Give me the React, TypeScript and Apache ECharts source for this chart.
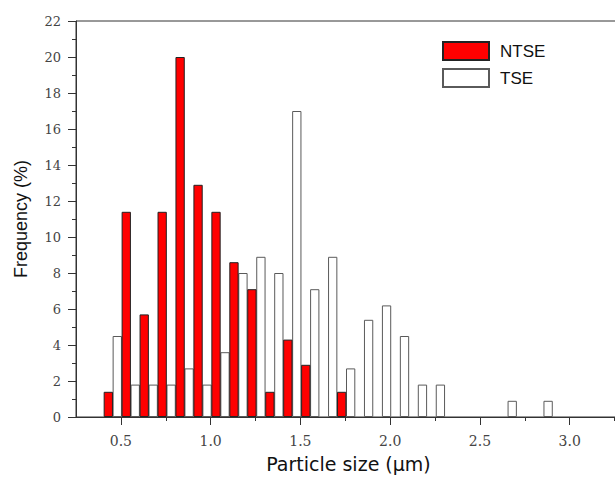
import React, { useEffect, useRef } from "react";
import * as echarts from "echarts";

// NTSE bins (bar centres, µm) and frequencies (%)
const ntseCenters = [0.43, 0.53, 0.63, 0.73, 0.83, 0.93, 1.03, 1.13, 1.23, 1.33, 1.43, 1.53, 1.73];
const ntseFreq = [1.4, 11.4, 5.7, 11.4, 20.0, 12.9, 11.4, 8.6, 7.1, 1.4, 4.3, 2.9, 1.4];

// TSE bins (bar centres, µm) and frequencies (%)
const tseCenters = [
  0.48, 0.58, 0.68, 0.78, 0.88, 0.98, 1.08, 1.18, 1.28, 1.38, 1.48, 1.58, 1.68, 1.78,
  1.88, 1.98, 2.08, 2.18, 2.28, 2.68, 2.88,
];
const tseFreq = [
  4.5, 1.8, 1.8, 1.8, 2.7, 1.8, 3.6, 8.0, 8.9, 8.0, 17.0, 7.1, 8.9, 2.7,
  5.4, 6.2, 4.5, 1.8, 1.8, 0.9, 0.9,
];

const majorXTicks = [0.5, 1.0, 1.5, 2.0, 2.5, 3.0];
const minorXTicks = [0.75, 1.25, 1.75, 2.25, 2.75, 3.25];
const xMin = 0.25;
const xMax = 3.286;
const yMin = 0;
const yMax = 22;
const yInterval = 2;

const serif = "DejaVu Serif";
const sans = "Liberation Sans";
const wideSans = "DejaVu Sans";
const axisColor = "#333";
const labelColor = "#444";

export default function App() {
  const ref = useRef<HTMLDivElement>(null);
  useEffect(() => {
    const chart = echarts.init(ref.current!, null, { renderer: "svg" });
    const gridPos = { left: 76, right: -6, top: 21, bottom: 61 };
    chart.setOption({
      animation: false,
      backgroundColor: "#fff",
      grid: [
        {
          ...gridPos,
          show: true,
          borderColor: axisColor,
          borderWidth: 1,
          backgroundColor: "transparent",
          outerBoundsMode: "none",
          containLabel: false,
        },
        { ...gridPos, outerBoundsMode: "none", containLabel: false },
      ],
      legend: {
        data: ["NTSE", "TSE"],
        orient: "vertical",
        left: 437,
        top: 36,
        itemWidth: 46,
        itemHeight: 18,
        itemGap: 7,
        icon: "rect",
        textStyle: { fontFamily: sans, fontSize: 17, color: "#111", padding: [0, 0, 0, 6] },
      },
      xAxis: [
        {
          type: "value",
          gridIndex: 0,
          min: xMin,
          max: xMax,
          splitLine: { show: false },
          axisLine: { show: true, lineStyle: { color: axisColor, width: 1 } },
          axisTick: { show: true, customValues: majorXTicks, length: 8, lineStyle: { color: axisColor } },
          axisLabel: {
            customValues: majorXTicks,
            formatter: (v: number) => v.toFixed(1),
            fontFamily: serif,
            fontSize: 14,
            color: labelColor,
            margin: 17,
          },
          name: "Particle size (μm)",
          nameLocation: "middle",
          nameGap: 37,
          nameTextStyle: { fontFamily: wideSans, fontSize: 19, color: "#111" },
        },
        {
          type: "value",
          gridIndex: 1,
          min: xMin,
          max: xMax,
          splitLine: { show: false },
          axisLine: { show: false },
          axisTick: { show: true, customValues: minorXTicks, length: 4, lineStyle: { color: axisColor } },
          axisLabel: { show: false },
        },
      ],
      yAxis: [
        {
          type: "value",
          gridIndex: 0,
          min: yMin,
          max: yMax,
          interval: yInterval,
          splitLine: { show: false },
          axisLine: { show: true, lineStyle: { color: axisColor, width: 1 } },
          axisTick: { show: true, length: 8, lineStyle: { color: axisColor } },
          minorTick: { show: true, splitNumber: 2, length: 4, lineStyle: { color: axisColor } },
          minorSplitLine: { show: false },
          axisLabel: { fontFamily: serif, fontSize: 13, color: labelColor, margin: 15 },
          name: "Frequency (%)",
          nameLocation: "middle",
          nameGap: 46,
          nameTextStyle: { fontFamily: sans, fontSize: 18, color: "#111" },
        },
        { type: "value", gridIndex: 1, min: yMin, max: yMax, show: false },
      ],
      series: [
        {
          name: "TSE",
          type: "bar",
          xAxisIndex: 0,
          yAxisIndex: 0,
          barWidth: 9.3,
          barGap: "-100%",
          data: tseCenters.map((x, i) => [x, tseFreq[i]]),
          itemStyle: { color: "#fff", borderColor: "#5a5a5a", borderWidth: 1 },
        },
        {
          name: "NTSE",
          type: "bar",
          xAxisIndex: 0,
          yAxisIndex: 0,
          barWidth: 9.3,
          barGap: "-100%",
          data: ntseCenters.map((x, i) => [x, ntseFreq[i]]),
          itemStyle: { color: "#ff0000", borderColor: "#222", borderWidth: 1 },
        },
      ],
    });
    return () => chart.dispose();
  }, []);
  return (
    <div
      ref={ref}
      style={{ position: "fixed", left: 0, top: 0, width: 615, height: 478, background: "#fff" }}
    />
  );
}
